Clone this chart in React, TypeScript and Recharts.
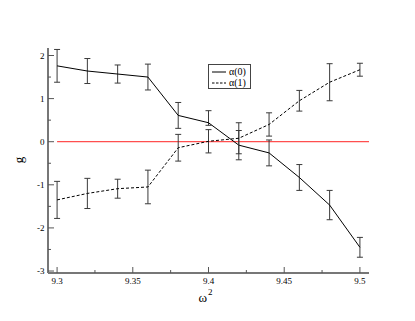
import { ComposedChart, Line, XAxis, YAxis, ErrorBar, ReferenceLine, Legend } from "recharts";

// omega^2 sample points
const omega2 = [9.3, 9.32, 9.34, 9.36, 9.38, 9.4, 9.42, 9.44, 9.46, 9.48, 9.5];

// alpha(0): solid line
const alpha0 = [1.76, 1.64, 1.57, 1.5, 0.61, 0.44, -0.08, -0.26, -0.83, -1.47, -2.45];
const alpha0Err = [0.38, 0.29, 0.21, 0.3, 0.3, [0.06, 0.28], 0.34, 0.3, 0.3, 0.34, 0.23];

// alpha(1): dashed line
const alpha1 = [-1.35, -1.2, -1.09, -1.05, -0.14, 0.01, 0.08, 0.4, 0.95, 1.38, 1.67];
const alpha1Err = [0.43, 0.35, 0.22, 0.39, 0.31, 0.27, 0.36, 0.27, 0.24, 0.43, 0.15];

const seriesNames = ["α(0)", "α(1)"];

const xTicks = [9.3, 9.325, 9.35, 9.375, 9.4, 9.425, 9.45, 9.475, 9.5];
const yTicks = [-3, -2.5, -2, -1.5, -1, -0.5, 0, 0.5, 1, 1.5, 2];

const data = omega2.map((w, i) => ({
  w,
  a0: alpha0[i],
  e0: alpha0Err[i],
  a1: alpha1[i],
  e1: alpha1Err[i],
}));

const FONT = "'Liberation Serif', 'DejaVu Serif', serif";
const TICK_COLOR = "#555";

const isMajorX = (v: number) => Math.abs(v * 20 - Math.round(v * 20)) < 1e-6;
const isMajorY = (v: number) => Math.abs(v - Math.round(v)) < 1e-6;

function LeftTick(props: any) {
  const { x, y, payload } = props;
  const major = isMajorY(payload.value);
  return (
    <g>
      <line x1={x} x2={x + (major ? 6 : 3)} y1={y} y2={y} stroke={TICK_COLOR} />
      {major && (
        <text x={x - 3.5} y={y + 3.2} textAnchor="end" fontSize={9} fontFamily={FONT} fill="#000">
          {payload.value}
        </text>
      )}
    </g>
  );
}

function RightTick(props: any) {
  const { x, y, payload } = props;
  const major = isMajorY(payload.value);
  return <line x1={x} x2={x - (major ? 6 : 3)} y1={y} y2={y} stroke={TICK_COLOR} />;
}

function BottomTick(props: any) {
  const { x, y, payload } = props;
  const major = isMajorX(payload.value);
  return (
    <g>
      <line x1={x} x2={x} y1={y} y2={y - (major ? 6 : 3)} stroke={TICK_COLOR} />
      {major && (
        <text x={x} y={y + 10.5} textAnchor="middle" fontSize={9} fontFamily={FONT} fill="#000">
          {String(payload.value)}
        </text>
      )}
    </g>
  );
}

function TopTick(props: any) {
  const { x, y, payload } = props;
  const major = isMajorX(payload.value);
  return <line x1={x} x2={x} y1={y} y2={y + (major ? 6 : 3)} stroke={TICK_COLOR} />;
}

function XTitle(props: any) {
  const { viewBox } = props;
  const cx = viewBox.x + viewBox.width / 2;
  return (
    <text x={cx - 3} y={302} textAnchor="middle" fontFamily={FONT} fill="#000">
      <tspan fontSize={13}>ω</tspan>
      <tspan fontSize={9} dx={1} dy={-7}>2</tspan>
    </text>
  );
}

function YTitle() {
  return (
    <text x={23} y={160} transform="rotate(-90 23 160)" textAnchor="middle" fontSize={13} fontFamily={FONT} fill="#000">
      g
    </text>
  );
}

function LegendBox(props: any) {
  const items = props.payload || [];
  return (
    <div
      style={{
        border: "1px solid #444",
        background: "#fff",
        width: 43,
        height: 25,
        boxSizing: "border-box",
        padding: "2px 0 0 3px",
        fontFamily: FONT,
        fontSize: 10,
        lineHeight: "10px",
        color: "#000",
      }}
    >
      {items.map((it: any, i: number) => (
        <div key={i} style={{ display: "flex", alignItems: "center", height: 10.5 }}>
          <svg width={14} height={6} style={{ marginRight: 3 }}>
            <line x1={0} x2={14} y1={3} y2={3} stroke="#000" strokeDasharray={i === 1 ? "2.5 1.5" : undefined} />
          </svg>
          <span style={{ color: "#000" }}>{seriesNames[i]}</span>
        </div>
      ))}
    </div>
  );
}

export default function App() {
  return (
    <div style={{ position: "absolute", left: 0, top: 0, background: "#fff" }}>
      <ComposedChart width={415} height={321} data={data} margin={{ top: 48, right: 46, bottom: 18, left: 0 }}>
        <XAxis
          xAxisId="b"
          dataKey="w"
          type="number"
          domain={[9.294, 9.506]}
          allowDataOverflow
          ticks={xTicks}
          interval={0}
          height={30}
          tickSize={0}
          tickMargin={0}
          tickLine={false}
          tick={<BottomTick />}
          axisLine={{ stroke: "#777", strokeWidth: 2 }}
          label={<XTitle />}
        />
        <XAxis
          xAxisId="t"
          orientation="top"
          type="number"
          domain={[9.294, 9.506]}
          allowDataOverflow
          ticks={xTicks}
          interval={0}
          height={0}
          tickSize={0}
          tickMargin={0}
          tickLine={false}
          tick={<TopTick />}
          axisLine={{ stroke: "#222", strokeWidth: 1 }}
        />
        <YAxis
          yAxisId="l"
          type="number"
          domain={[-3.046, 2.174]}
          allowDataOverflow
          ticks={yTicks}
          interval={0}
          width={48}
          tickSize={0}
          tickMargin={0}
          tickLine={false}
          tick={<LeftTick />}
          axisLine={{ stroke: "#777", strokeWidth: 2 }}
          label={<YTitle />}
        />
        <YAxis
          yAxisId="r"
          orientation="right"
          type="number"
          domain={[-3.046, 2.174]}
          allowDataOverflow
          ticks={yTicks}
          interval={0}
          width={0}
          tickSize={0}
          tickMargin={0}
          tickLine={false}
          tick={<RightTick />}
          axisLine={{ stroke: "#777", strokeWidth: 2 }}
        />
        <ReferenceLine
          xAxisId="b"
          yAxisId="l"
          segment={[
            { x: 9.3, y: 0 },
            { x: 9.506, y: 0 },
          ]}
          stroke="#f22"
          strokeWidth={1}
        />
        <Legend
          layout="horizontal"
          verticalAlign="middle"
          align="center"
          width={43}
          height={25}
          wrapperStyle={{ left: 208, top: 64 }}
          content={<LegendBox />}
        />
        <Line
          xAxisId="b"
          yAxisId="l"
          name={seriesNames[0]}
          dataKey="a0"
          type="linear"
          stroke="#000"
          strokeWidth={1}
          dot={false}
          isAnimationActive={false}
        >
          <ErrorBar dataKey="e0" direction="y" width={3} stroke="#3a3a3a" strokeWidth={1} />
        </Line>
        <Line
          xAxisId="b"
          yAxisId="l"
          name={seriesNames[1]}
          dataKey="a1"
          type="linear"
          stroke="#000"
          strokeWidth={1}
          strokeDasharray="3 2"
          dot={false}
          isAnimationActive={false}
        >
          <ErrorBar dataKey="e1" direction="y" width={3} stroke="#3a3a3a" strokeWidth={1} />
        </Line>
      </ComposedChart>
    </div>
  );
}
